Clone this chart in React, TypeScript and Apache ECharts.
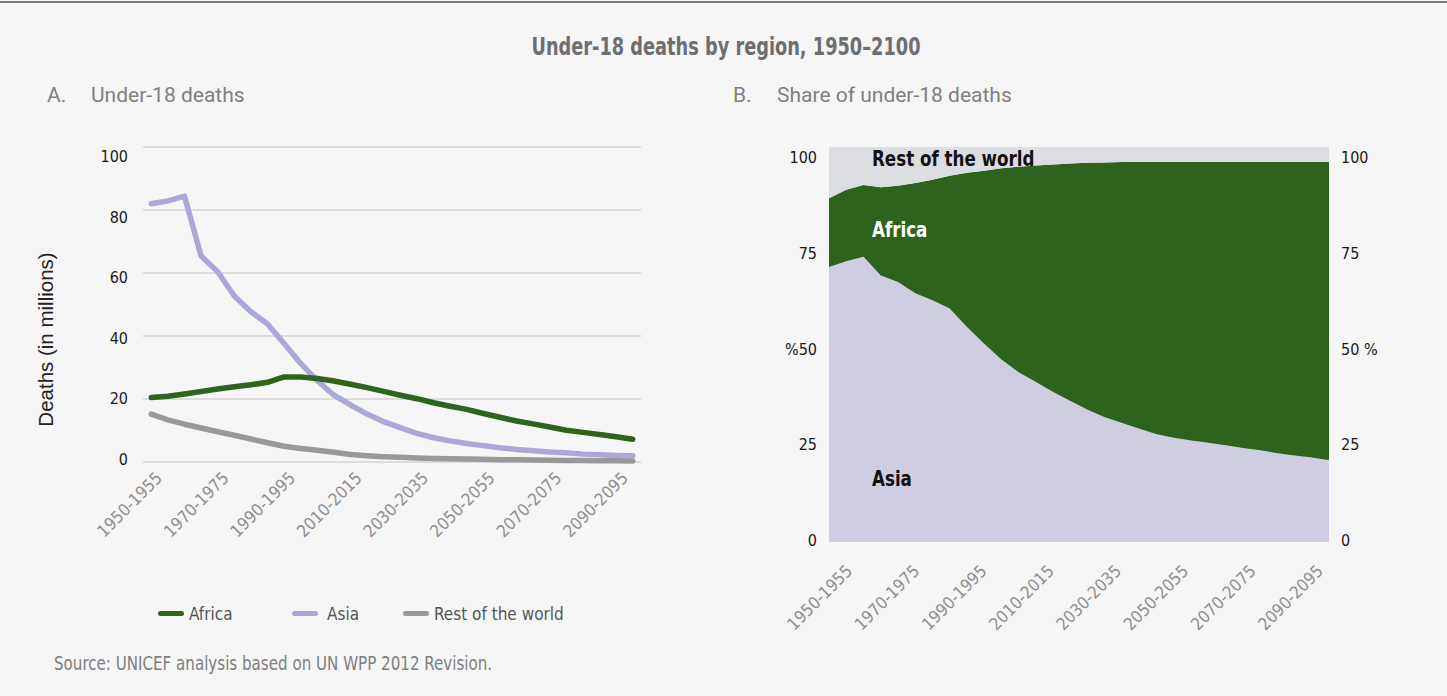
import React, { useEffect, useRef } from "react";
import * as echarts from "echarts";

const categories = [
  "1950-1955", "1955-1960", "1960-1965", "1965-1970", "1970-1975", "1975-1980",
  "1980-1985", "1985-1990", "1990-1995", "1995-2000", "2000-2005", "2005-2010",
  "2010-2015", "2015-2020", "2020-2025", "2025-2030", "2030-2035", "2035-2040",
  "2040-2045", "2045-2050", "2050-2055", "2055-2060", "2060-2065", "2065-2070",
  "2070-2075", "2075-2080", "2080-2085", "2085-2090", "2090-2095", "2095-2100",
];

// Panel A: under-18 deaths, millions
const africaDeaths = [20.5, 20.9, 21.6, 22.4, 23.2, 23.9, 24.5, 25.3, 27.0, 27.0, 26.5, 25.7, 24.7, 23.6, 22.4, 21.2, 20.1, 18.8, 17.7, 16.7, 15.4, 14.2, 13.0, 12.1, 11.1, 10.1, 9.4, 8.7, 8.0, 7.2];
const asiaDeaths = [82.0, 82.9, 84.4, 65.4, 60.4, 52.7, 47.7, 43.8, 37.6, 31.3, 25.8, 21.2, 18.1, 15.2, 12.8, 10.9, 9.1, 7.7, 6.7, 5.9, 5.2, 4.5, 4.0, 3.6, 3.2, 2.9, 2.5, 2.3, 2.1, 2.0];
const restDeaths = [15.2, 13.4, 12.0, 10.8, 9.6, 8.5, 7.3, 6.1, 5.0, 4.3, 3.7, 3.1, 2.4, 2.0, 1.7, 1.5, 1.3, 1.15, 1.05, 0.95, 0.85, 0.75, 0.7, 0.6, 0.55, 0.5, 0.45, 0.4, 0.38, 0.35];

// Panel B: share of under-18 deaths, %
const asiaShare = [69.6, 71.1, 72.2, 67.5, 65.8, 63.0, 61.2, 59.1, 54.4, 50.2, 46.2, 43.0, 40.5, 38.0, 35.7, 33.5, 31.6, 30.1, 28.7, 27.3, 26.4, 25.7, 25.1, 24.5, 23.8, 23.2, 22.5, 21.9, 21.4, 20.7];
const africaShare = [17.4, 18.1, 18.2, 22.3, 24.4, 27.9, 30.5, 33.6, 39.1, 43.8, 48.4, 52.0, 54.8, 57.6, 60.1, 62.5, 64.5, 66.1, 67.5, 68.9, 69.8, 70.5, 71.1, 71.7, 72.4, 73.0, 73.7, 74.3, 74.8, 75.5];
const restShare = [13.0, 10.8, 9.6, 10.2, 9.8, 9.1, 8.3, 7.3, 6.5, 6.0, 5.4, 5.0, 4.7, 4.4, 4.2, 4.0, 3.9, 3.8, 3.8, 3.8, 3.8, 3.8, 3.8, 3.8, 3.8, 3.8, 3.8, 3.8, 3.8, 3.8];

const deathTicks = [0, 20, 40, 60, 80, 100];
const shareTicks = [0, 25, 50, 75, 100];
const labelledCategories = [0, 4, 8, 12, 16, 20, 24, 28]; // every fourth period is labelled

const TITLE = "Under-18 deaths by region, 1950\u20132100";
const SUB_A = "Under-18 deaths";
const SUB_B = "Share of under-18 deaths";
const SOURCE = "Source: UNICEF analysis based on UN WPP 2012 Revision.";

const NARROW = '"DejaVu Sans Condensed", "DejaVu Sans", sans-serif';
const ROBOTO = 'Roboto, "Liberation Sans", sans-serif';

const C_AFRICA_LINE = "#2f641b";
const C_ASIA_LINE = "#aaa8d8";
const C_REST_LINE = "#999999";
const C_AFRICA_AREA = "#2e631e";
const C_ASIA_AREA = "#cecde2";
const C_REST_AREA = "#dcdde0";

const CAPSULE = "path://M2.5,0L23.5,0A2.5,2.5,0,0,1,23.5,5L2.5,5A2.5,2.5,0,0,1,2.5,0Z";

export default function App() {
  const ref = useRef<HTMLDivElement>(null);

  useEffect(() => {
    if (!ref.current) return;
    const chart = echarts.init(ref.current, null, { renderer: "svg" });

    const legendBase = {
      top: 605,
      padding: 0,
      icon: CAPSULE,
      itemWidth: 26,
      itemHeight: 5,
      selectedMode: false,
      textStyle: { fontFamily: NARROW, fontSize: 17, color: "#555555" },
    };

    const xLabel = {
      rotate: 45,
      color: "#8f8f8f",
      fontFamily: NARROW,
      fontSize: 17,
      customValues: labelledCategories,
      formatter: (v: number) => categories[Math.round(v)] ?? "",
    };

    const yLabelStyle = { color: "#1a1a1a", fontFamily: NARROW, fontSize: 16 };

    const hiddenAxisParts = {
      axisLine: { show: false },
      axisTick: { show: false },
      splitLine: { show: false },
    };

    const option: any = {
      animation: false,
      backgroundColor: "#f6f6f6",
      textStyle: { fontFamily: NARROW },
      legend: [
        { ...legendBase, left: 158, data: ["Africa"] },
        { ...legendBase, left: 292, data: ["Asia"], textStyle: { ...legendBase.textStyle, padding: [0, 0, 0, 4] } },
        { ...legendBase, left: 403, data: ["Rest of the world"] },
      ],
      grid: [
        { left: 143, top: 147, width: 498, height: 315 },
        { left: 829, top: 147, width: 500, height: 395 },
      ],
      xAxis: [
        {
          type: "category",
          gridIndex: 0,
          data: categories,
          boundaryGap: true,
          ...hiddenAxisParts,
          axisLabel: { show: false },
        },
        {
          type: "category",
          gridIndex: 1,
          data: categories,
          boundaryGap: false,
          ...hiddenAxisParts,
          axisLabel: { show: false },
        },
        {
          // period labels of panel A
          type: "value",
          gridIndex: 0,
          position: "bottom",
          min: -0.96,
          max: 28.97,
          ...hiddenAxisParts,
          axisLabel: { ...xLabel, margin: 13 },
        },
        {
          // period labels of panel B
          type: "value",
          gridIndex: 1,
          position: "bottom",
          min: -1.19,
          max: 28.54,
          ...hiddenAxisParts,
          axisLabel: { ...xLabel, margin: 26 },
        },
      ],
      yAxis: [
        {
          type: "value",
          gridIndex: 0,
          min: 0,
          max: 100,
          interval: 20,
          axisLabel: { show: false },
          axisLine: { show: false },
          axisTick: { show: false },
          splitLine: { lineStyle: { color: "#d3d3d3", width: 1.5 } },
        },
        {
          type: "value",
          gridIndex: 0,
          position: "left",
          min: -0.99,
          max: 103.14,
          name: "Deaths (in millions)",
          nameLocation: "middle",
          nameRotate: 90,
          nameGap: 87,
          nameTextStyle: {
            fontFamily: '"Liberation Sans", Arial, sans-serif',
            fontSize: 20.5,
            color: "#222222",
            padding: [0, 70, 0, 0],
          },
          ...hiddenAxisParts,
          axisLabel: { ...yLabelStyle, margin: 15, customValues: deathTicks },
        },
        {
          type: "value",
          gridIndex: 1,
          position: "left",
          min: 0,
          max: 100,
          interval: 25,
          axisLabel: { show: false },
          ...hiddenAxisParts,
        },
        {
          type: "value",
          gridIndex: 1,
          position: "left",
          min: -0.39,
          max: 102.74,
          ...hiddenAxisParts,
          axisLabel: {
            ...yLabelStyle,
            margin: 12,
            customValues: shareTicks,
            formatter: (v: number) => (v === 50 ? "%50" : String(v)),
          },
        },
        {
          type: "value",
          gridIndex: 1,
          position: "right",
          min: -0.39,
          max: 102.74,
          ...hiddenAxisParts,
          axisLabel: {
            ...yLabelStyle,
            margin: 12,
            customValues: shareTicks,
            formatter: (v: number) => (v === 50 ? "50 %" : String(v)),
          },
        },
      ],
      series: [
        {
          name: "Asia",
          type: "line",
          xAxisIndex: 0,
          yAxisIndex: 0,
          data: asiaDeaths,
          symbol: "none",
          itemStyle: { color: C_ASIA_LINE },
          lineStyle: { color: C_ASIA_LINE, width: 5.5, cap: "round", join: "round" },
        },
        {
          name: "Africa",
          type: "line",
          xAxisIndex: 0,
          yAxisIndex: 0,
          data: africaDeaths,
          symbol: "none",
          itemStyle: { color: C_AFRICA_LINE },
          lineStyle: { color: C_AFRICA_LINE, width: 5.5, cap: "round", join: "round" },
        },
        {
          name: "Rest of the world",
          type: "line",
          xAxisIndex: 0,
          yAxisIndex: 0,
          data: restDeaths,
          symbol: "none",
          itemStyle: { color: C_REST_LINE },
          lineStyle: { color: C_REST_LINE, width: 5.5, cap: "round", join: "round" },
        },
        {
          name: "Asia share",
          type: "line",
          xAxisIndex: 1,
          yAxisIndex: 2,
          stack: "share",
          data: asiaShare,
          symbol: "none",
          lineStyle: { width: 0 },
          itemStyle: { color: C_ASIA_AREA },
          areaStyle: { color: C_ASIA_AREA, opacity: 1 },
        },
        {
          name: "Africa share",
          type: "line",
          xAxisIndex: 1,
          yAxisIndex: 2,
          stack: "share",
          data: africaShare,
          symbol: "none",
          lineStyle: { width: 0 },
          itemStyle: { color: C_AFRICA_AREA },
          areaStyle: { color: C_AFRICA_AREA, opacity: 1 },
        },
        {
          name: "Rest of the world share",
          type: "line",
          xAxisIndex: 1,
          yAxisIndex: 2,
          stack: "share",
          data: restShare,
          symbol: "none",
          lineStyle: { width: 0 },
          itemStyle: { color: C_REST_AREA },
          areaStyle: { color: C_REST_AREA, opacity: 1 },
        },
      ],
      graphic: [
        { type: "rect", left: 0, top: 1, shape: { width: 1447, height: 2 }, style: { fill: "#7a7a7a" }, silent: true },
        {
          type: "text", x: 726, y: 46, scaleX: 0.79,
          style: { text: TITLE, fill: "#6d6e71", font: `bold 25px ${NARROW}`, textAlign: "center", textVerticalAlign: "middle" },
        },
        { type: "text", x: 47, y: 95, style: { text: "A.", fill: "#808080", font: `21px ${ROBOTO}`, textVerticalAlign: "middle" } },
        { type: "text", x: 91, y: 95, style: { text: SUB_A, fill: "#808080", font: `21px ${ROBOTO}`, textVerticalAlign: "middle" } },
        { type: "text", x: 733, y: 95, style: { text: "B.", fill: "#808080", font: `21px ${ROBOTO}`, textVerticalAlign: "middle" } },
        { type: "text", x: 777, y: 95, style: { text: SUB_B, fill: "#808080", font: `21px ${ROBOTO}`, textVerticalAlign: "middle" } },
        { type: "text", x: 54, y: 663, scaleX: 0.84, style: { text: SOURCE, fill: "#7f7f7f", font: `20px ${NARROW}`, textVerticalAlign: "middle" } },
        { type: "text", x: 872, y: 159, z: 10, scaleX: 0.885, style: { text: "Rest of the world", fill: "#111111", font: `bold 21px ${NARROW}`, textVerticalAlign: "middle" } },
        { type: "text", x: 872, y: 230, z: 10, scaleX: 0.885, style: { text: "Africa", fill: "#ffffff", font: `bold 21px ${NARROW}`, textVerticalAlign: "middle" } },
        { type: "text", x: 872, y: 479, z: 10, scaleX: 0.885, style: { text: "Asia", fill: "#111111", font: `bold 21px ${NARROW}`, textVerticalAlign: "middle" } },
      ],
    };

    chart.setOption(option);
    return () => chart.dispose();
  }, []);

  return (
    <div
      ref={ref}
      style={{ position: "fixed", left: 0, top: 0, width: 1447, height: 696 }}
    />
  );
}
